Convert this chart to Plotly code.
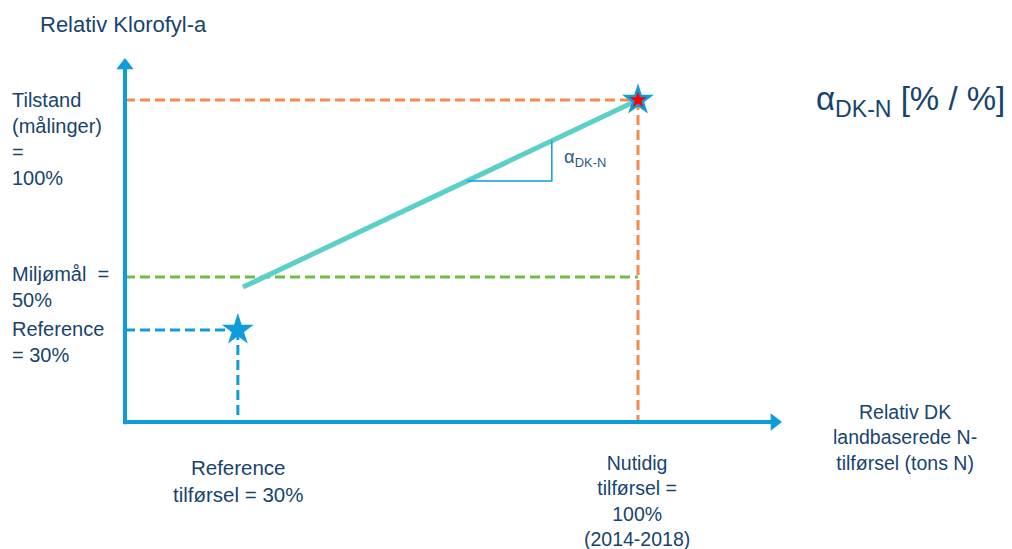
import plotly.graph_objects as go

# ---------------- data (schematic diagram units, origin of axes = 0,0) ----------------
load_ref = 22.0        # x-position of "Reference tilførsel" (drawn)
load_now = 100.0       # x-position of "Nutidig tilførsel" (drawn)
level_now = 100.0      # Tilstand (målinger) = 100%
level_goal = 45.0      # Miljømål = 50% (drawn height)
level_ref = 28.6       # Reference = 30% (drawn height)
resp_x = [23.0, 100.0]     # response line, N-load
resp_y = [41.9, 100.0]     # response line, klorofyl
tri_x = [66.7, 83.2]       # slope triangle x-extent
x_axis_end = 126.6
y_axis_end = 110.7

y_labels = ["Tilstand<br>(målinger)<br>=<br>100%", "Miljømål&nbsp; =<br>50%", "Reference<br>= 30%"]
x_labels = ["Reference<br>tilførsel = 30%", "Nutidig<br>tilførsel =<br>100%<br>(2014-2018)"]
x_title = "Relativ DK<br>landbaserede N-<br>tilførsel (tons N)"
y_title = "Relativ Klorofyl-a"
alpha_label = "α<sub>DK-N</sub>"
alpha_big = "α<sub>DK-N</sub> [% / %]"

# ---------------- styles ----------------
W, H = 1012, 549
BLUE = "#0E9DDA"
ORANGE = "#F58A4C"
GREEN = "#6DBE45"
TEAL = "#5CCFC8"
TXT = "#17446E"
FONT = "Liberation Sans, Arial, sans-serif"
DASH = "10px,5px"

# pixel mapping of plot area (whole figure)
sx, sy = 5.13, 3.22
ox, oy = 125, 422
xr = [-ox / sx, (W - ox) / sx]
yr = [(oy - H) / sy, oy / sy]


def paper(px, py):
    return px / W, 1 - py / H


fig = go.Figure()

def seg(xs, ys, color, width=3, dash=DASH):
    fig.add_trace(go.Scatter(x=xs, y=ys, mode="lines",
                             line=dict(color=color, width=width, dash=dash),
                             hoverinfo="skip"))

# dashed guide lines
seg([0, load_now], [level_now, level_now], ORANGE)
seg([load_now, load_now], [level_now, 0], ORANGE)
seg([0, load_now], [level_goal, level_goal], GREEN)
seg([0, load_ref], [level_ref, level_ref], BLUE)
seg([load_ref, load_ref], [level_ref, 0], BLUE)

# axes with arrow heads
seg([0, 0], [-0.7, y_axis_end], BLUE, width=4, dash="solid")
seg([-0.4, x_axis_end], [0, 0], BLUE, width=4, dash="solid")
fig.add_trace(go.Scatter(x=[0], y=[y_axis_end], mode="markers",
                         marker=dict(symbol="triangle-up", size=15, color=BLUE, line=dict(width=0)),
                         hoverinfo="skip"))
fig.add_trace(go.Scatter(x=[x_axis_end], y=[0], mode="markers",
                         marker=dict(symbol="triangle-right", size=15, color=BLUE, line=dict(width=0)),
                         hoverinfo="skip"))

# response line
seg(resp_x, resp_y, TEAL, width=5, dash="solid")

# slope triangle
slope = (resp_y[1] - resp_y[0]) / (resp_x[1] - resp_x[0])
ty0 = resp_y[0] + slope * (tri_x[0] - resp_x[0])
ty1 = resp_y[0] + slope * (tri_x[1] - resp_x[0])
seg([tri_x[0], tri_x[1], tri_x[1]], [ty0, ty0, ty1], BLUE, width=1.5, dash="solid")

# stars
fig.add_trace(go.Scatter(x=[load_now, load_ref], y=[level_now, level_ref], mode="markers",
                         marker=dict(symbol="star", size=24, color=BLUE, line=dict(width=0)),
                         hoverinfo="skip"))
fig.add_trace(go.Scatter(x=[load_now], y=[level_now], mode="markers",
                         marker=dict(symbol="star", size=13, color="#FF0000", line=dict(width=0)),
                         hoverinfo="skip"))

ann = []


def txt(text, px, py, size, xanchor="left", align="left", color=TXT):
    x, y = paper(px, py)
    ann.append(dict(text=text, x=x, y=y, xref="paper", yref="paper", showarrow=False,
                    xanchor=xanchor, yanchor="middle", align=align, borderpad=0,
                    font=dict(family=FONT, size=size, color=color)))

txt(y_title, 39, 25, 22)
txt(y_labels[0], 11, 139, 20)
txt(y_labels[1], 11, 287, 20)
txt(y_labels[2], 11, 342, 20)
txt(x_labels[0], 238, 481, 20.5, xanchor="center", align="center")
txt(x_labels[1], 637, 501, 19.5, xanchor="center", align="center")
txt(x_title, 905, 437, 19.5, xanchor="center", align="center")
txt(alpha_big, 815, 101, 33)
txt(alpha_label, 563, 158, 18.5, color="#2B5A86")

fig.update_layout(
    width=W, height=H, margin=dict(l=0, r=0, t=0, b=0),
    paper_bgcolor="white", plot_bgcolor="white", showlegend=False,
    xaxis=dict(range=xr, visible=False, fixedrange=True),
    yaxis=dict(range=yr, visible=False, fixedrange=True),
    annotations=ann,
)

fig.write_html("out.html", config={"displayModeBar": False, "staticPlot": True})

# remove the browser's default page margin so the figure fills the window exactly
with open("out.html", "r", encoding="utf-8") as f:
    html = f.read()
html = html.replace("<head>", "<head><style>html,body{margin:0;padding:0;overflow:hidden;}</style>", 1)
with open("out.html", "w", encoding="utf-8") as f:
    f.write(html)
